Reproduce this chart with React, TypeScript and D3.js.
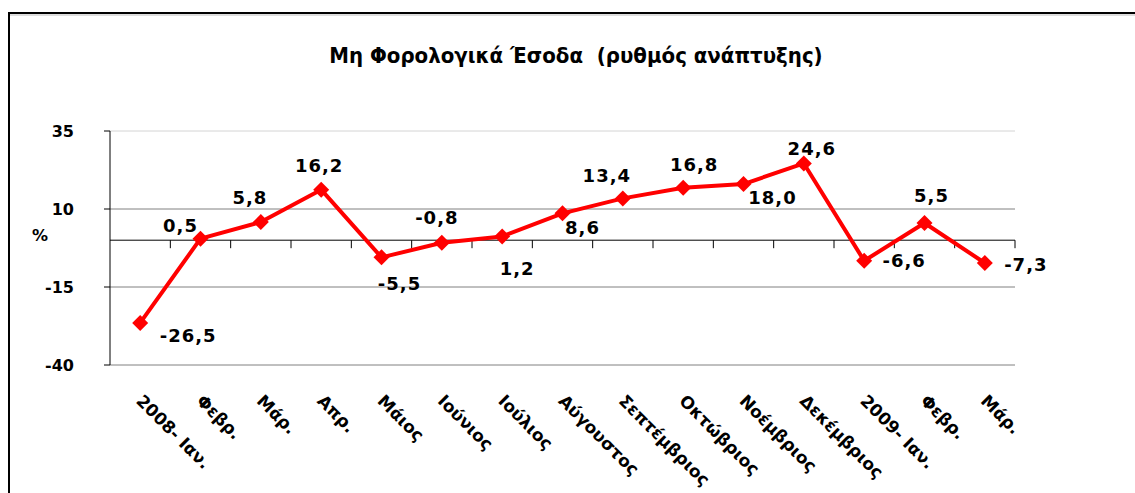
import { scaleBand, scaleLinear, line as d3_line, symbol, symbolSquare } from "d3";

const months = [
  "2008- Ιαν.",
  "Φεβρ.",
  "Μάρ.",
  "Απρ.",
  "Μάιος",
  "Ιούνιος",
  "Ιούλιος",
  "Αύγουστος",
  "Σεπτέμβριος",
  "Οκτώβριος",
  "Νοέμβριος",
  "Δεκέμβριος",
  "2009- Ιαν.",
  "Φεβρ.",
  "Μάρ.",
];
const growth = [-26.5, 0.5, 5.8, 16.2, -5.5, -0.8, 1.2, 8.6, 13.4, 16.8, 18.0, 24.6, -6.6, 5.5, -7.3];
const yTicks = [35, 10, -15, -40];

// where each value label sits relative to its marker (px)
const labelOffsets: [number, number][] = [
  [48, 13], [-20, -13], [-11, -24], [-2, -24], [18, 26], [-5, -25], [15, 32], [20, 14],
  [-16, -23], [11, -23], [29, 14], [8, -15], [40, 0], [7, -27], [41, 2],
];

const W = 1135;
const H = 493;
const plot = { left: 110, right: 1015, top: 131, bottom: 365 };
const font = "'DejaVu Sans', sans-serif";

export default function App() {
  let x = scaleBand<number>()
    .domain(months.map((_, i) => i))
    .range([plot.left, plot.right]);
  let y = scaleLinear().domain([-40, 35]).range([plot.bottom, plot.top]);
  let cx = (i: number) => (x(i) ?? 0) + x.bandwidth() / 2;

  let path = d3_line<number>()
    .x((_, i) => cx(i))
    .y((d) => y(d))(growth);

  let diamond = symbol().type(symbolSquare).size(128)();
  let zero = y(0);
  let fmt = (v: number) => v.toFixed(1).replace(".", ",");

  return (
    <svg
      width={W}
      height={H}
      style={{ position: "absolute", left: 0, top: 0, background: "#fff" }}
      fontFamily={font}
    >
      {/* chart frame */}
      <line x1={9} x2={W} y1={15} y2={15} stroke="#bbb" strokeWidth={1} />
      <line x1={9} x2={W} y1={13} y2={13} stroke="#000" strokeWidth={2} />
      <line x1={9} x2={9} y1={12} y2={H} stroke="#000" strokeWidth={2} />

      <text
        x={576}
        y={63}
        textAnchor="middle"
        fontFamily="'DejaVu Sans Condensed', 'DejaVu Sans', sans-serif"
        fontWeight="bold"
        fontSize={22}
      >
        Μη Φορολογικά Έσοδα&#160;&#160;(ρυθμός ανάπτυξης)
      </text>

      {/* grid lines */}
      {yTicks.map((t) => (
        <line
          key={t}
          x1={plot.left}
          x2={plot.right}
          y1={y(t)}
          y2={y(t)}
          stroke={t === 35 ? "#d4d4d4" : "#808080"}
          strokeWidth={1}
        />
      ))}

      {/* y axis */}
      <line x1={plot.left} x2={plot.left} y1={plot.top} y2={plot.bottom} stroke="#000" />
      {yTicks.map((t) => (
        <g key={t}>
          <line x1={plot.left - 6} x2={plot.left} y1={y(t)} y2={y(t)} stroke="#000" />
          <text x={74} y={y(t)} dy="0.35em" textAnchor="end" fontWeight="bold" fontSize={16}>
            {t}
          </text>
        </g>
      ))}
      <text x={40} y={235} dy="0.35em" textAnchor="middle" fontWeight="bold" fontSize={16}>
        %
      </text>

      {/* x axis at zero */}
      <line x1={plot.left} x2={plot.right} y1={zero} y2={zero} stroke="#000" />
      {months.map((_, i) => (
        <line
          key={i}
          x1={(x(i) ?? 0) + x.bandwidth()}
          x2={(x(i) ?? 0) + x.bandwidth()}
          y1={zero}
          y2={zero + 8}
          stroke="#000"
        />
      ))}

      {/* month labels */}
      {months.map((m, i) => (
        <text
          key={i}
          transform={`translate(${cx(i) - 5},402) rotate(45)`}
          fontWeight="bold"
          fontSize={17}
        >
          {m}
        </text>
      ))}

      {/* series */}
      <path d={path ?? ""} fill="none" stroke="#ff0000" strokeWidth={4} strokeLinejoin="round" />
      {growth.map((v, i) => (
        <path
          key={i}
          d={diamond ?? ""}
          transform={`translate(${cx(i)},${y(v)}) rotate(45)`}
          fill="#ff0000"
        />
      ))}

      {/* value labels */}
      {growth.map((v, i) => (
        <text
          key={i}
          x={cx(i) + labelOffsets[i][0]}
          y={y(v) + labelOffsets[i][1]}
          dy="0.35em"
          textAnchor="middle"
          fontWeight="bold"
          fontSize={18}
          letterSpacing={1}
        >
          {fmt(v)}
        </text>
      ))}
    </svg>
  );
}
